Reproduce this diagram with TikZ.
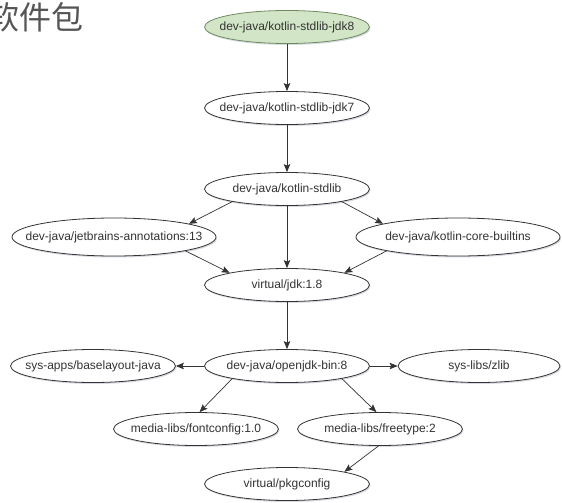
\documentclass[tikz,border=0pt]{standalone}
\usepackage{fontspec}
\setmainfont{Liberation Sans}
\newfontfamily\cjkfont{Noto Sans CJK SC}
\usetikzlibrary{shapes.geometric,arrows.meta,shadows}
\definecolor{ink}{HTML}{333333}
\definecolor{rootfill}{HTML}{D2E5C6}
\definecolor{rootdraw}{HTML}{6F8A62}
\definecolor{titlegray}{HTML}{555555}
\definecolor{shadowblue}{HTML}{8C94A8}

\begin{document}
\begin{tikzpicture}[x=1pt,y=-1pt,
    pkg/.style={ellipse,draw=ink,fill=white,text=ink,line width=0.8pt,
      inner xsep=-60pt,inner ysep=-4pt,
      minimum width=165pt,minimum height=33pt,
      font=\fontsize{12}{14}\selectfont,
      drop shadow={shadow xshift=1pt,shadow yshift=-1.5pt,fill=shadowblue,opacity=0.35}},
    wide/.style={minimum width=204pt,minimum height=38pt},
    root/.style={fill=rootfill,draw=rootdraw},
    dep/.style={draw=ink,line width=0.7pt,-{Stealth[length=8pt,width=6.5pt,inset=1.5pt]}}]
  \useasboundingbox (0,0) rectangle (562,503);
  % title, cut at the left edge
  \node[anchor=east,inner sep=0pt,text=titlegray,
    font=\cjkfont\fontsize{32}{34}\selectfont] (title) at (84,17) {软件包};
  % packages
  \node[pkg,root] (jdkeight) at (287,27) {dev-java/kotlin-stdlib-jdk8};
  \node[pkg] (jdkseven) at (287,108) {dev-java/kotlin-stdlib-jdk7};
  \node[pkg] (stdlib) at (287,189) {dev-java/kotlin-stdlib};
  \node[pkg,wide] (jetbrains) at (114,237) {dev-java/jetbrains-annotations:13};
  \node[pkg,wide] (builtins) at (458,237) {dev-java/kotlin-core-builtins};
  \node[pkg] (vjdk) at (287,285) {virtual/jdk:1.8};
  \node[pkg] (openjdk) at (287,366) {dev-java/openjdk-bin:8};
  \node[pkg] (baselayout) at (93,366) {sys-apps/baselayout-java};
  \node[pkg,minimum width=162pt] (zlib) at (479,366) {sys-libs/zlib};
  \node[pkg] (fontconfig) at (196,429) {media-libs/fontconfig:1.0};
  \node[pkg] (freetype) at (380,429) {media-libs/freetype:2};
  \node[pkg] (pkgconfig) at (287,484) {virtual/pkgconfig};
  % dependencies
  \draw[dep] (jdkeight.south) -- (jdkseven.north);
  \draw[dep] (jdkseven.south) -- (stdlib.north);
  \draw[dep] (stdlib.193) -- (jetbrains.10);
  \draw[dep] (stdlib.347) -- (builtins.170);
  \draw[dep] (stdlib.south) -- (vjdk.north);
  \draw[dep] (jetbrains.349) -- (vjdk.168);
  \draw[dep] (builtins.191) -- (vjdk.12);
  \draw[dep] (vjdk.south) -- (openjdk.north);
  \draw[dep] (openjdk.west) -- (baselayout.east);
  \draw[dep] (openjdk.east) -- (zlib.west);
  \draw[dep] (openjdk.193) -- (fontconfig.78);
  \draw[dep] (openjdk.347) -- (freetype.102);
  \draw[dep] (freetype.265) -- (pkgconfig.12);
\end{tikzpicture}
\end{document}
